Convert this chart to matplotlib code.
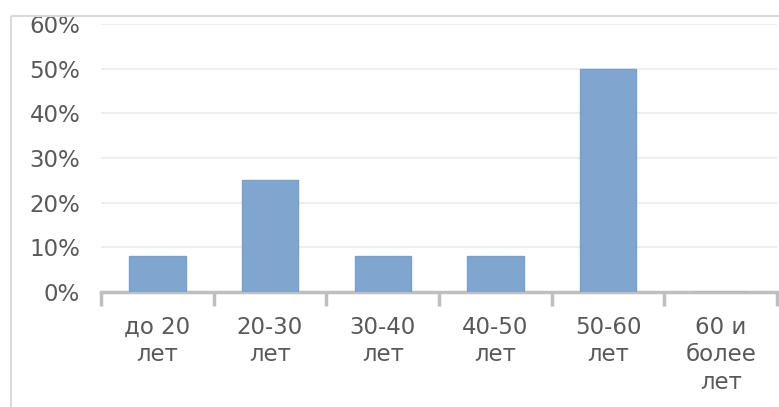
import matplotlib
matplotlib.use("Agg")
import matplotlib.pyplot as plt
from matplotlib.patches import Rectangle
from matplotlib.ticker import PercentFormatter, FixedLocator

categories = ["до 20\nлет", "20-30\nлет", "30-40\nлет", "40-50\nлет", "50-60\nлет", "60 и\nболее\nлет"]
shares = [0.08, 0.25, 0.08, 0.08, 0.50, 0.0]
y_ticks = [0.0, 0.1, 0.2, 0.3, 0.4, 0.5, 0.6]

W, H = 779, 407
fig = plt.figure(figsize=(W / 100, H / 100), dpi=100)
fig.patch.set_facecolor("white")

# outer chart frame
frame = Rectangle((11 / W, 1 - 16 / H), 1.0, -1.0, transform=fig.transFigure,
                  fill=False, edgecolor="#D9D9D9", linewidth=1.5, clip_on=False)
fig.add_artist(frame)

ax = fig.add_axes([101 / W, (H - 292) / H, (777 - 101) / W, (292 - 24) / H])
x = list(range(len(categories)))
ax.bar(x, shares, width=0.5, color="#7FA6CF", edgecolor="#7A9FCC", linewidth=1, zorder=3)

ax.set_xlim(-0.5, len(categories) - 0.5)
ax.set_ylim(0, 0.6)
ax.yaxis.set_major_locator(FixedLocator(y_ticks))
ax.yaxis.set_major_formatter(PercentFormatter(1.0, decimals=0))
ax.grid(axis="y", color="#EEEEEE", linewidth=1.5, zorder=0)
ax.set_axisbelow(True)

for side in ("top", "right", "left"):
    ax.spines[side].set_visible(False)
ax.spines["bottom"].set_color("#BFBFBF")
ax.spines["bottom"].set_linewidth(2.5)
ax.spines["bottom"].set_zorder(2)

ax.set_xticks([i - 0.5 for i in range(len(categories) + 1)])
ax.set_xticklabels([])
ax.set_xticks(x, minor=True)
ax.set_xticklabels(categories, minor=True, fontsize=16.5, color="#595959", linespacing=1.26)
ax.tick_params(axis="x", which="major", length=10, width=2.5, color="#BFBFBF", direction="out")
ax.tick_params(axis="x", which="minor", length=0, pad=17)
ax.tick_params(axis="y", length=0, pad=15, labelsize=16.5, labelcolor="#595959")

fig.savefig("out.png", dpi=100, facecolor="white")
